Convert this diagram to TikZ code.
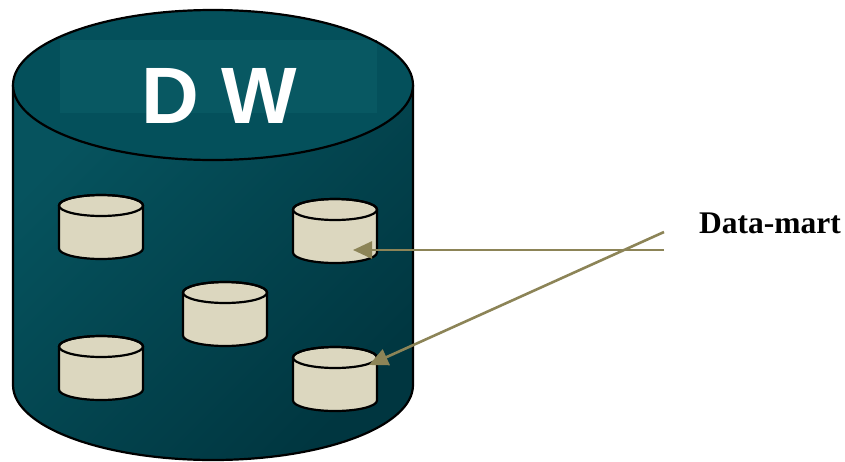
\documentclass[tikz,border=0pt]{standalone}
\usepackage{fontspec}
\setmainfont{Liberation Serif}
\newfontfamily\dwfont{Liberation Sans}
\usetikzlibrary{arrows.meta}
\definecolor{tealA}{HTML}{06535E}
\definecolor{tealB}{HTML}{003640}
\definecolor{tealTop}{HTML}{04505B}
\definecolor{tealRect}{HTML}{085862}
\definecolor{cylfill}{HTML}{DCD7BF}
\definecolor{arrcol}{HTML}{8C8457}
\tikzset{
  outline/.style={draw=black, line width=2.2pt},
  smallcyl/.style={outline, fill=cylfill},
  arr/.style={draw=arrcol, line width=2.6pt, -{Triangle[length=19pt,width=17pt]}},
  lbl/.style={font=\bfseries\fontsize{31.5}{36}\selectfont, anchor=base west, inner sep=0pt},
  dwlbl/.style={font=\dwfont\bfseries\fontsize{80}{90}\selectfont, text=white, inner sep=0pt},
}
\newcommand{\mycyl}[3]{% name, x, y (top-left)
  \path[smallcyl] (#2,#3+10.5) -- (#2,#3+53.5) arc(180:360:42pt and 10.5pt) -- (#2+84,#3+10.5) arc(0:180:42pt and 10.5pt) -- cycle;
  \draw[outline] (#2+42,#3+10.5) ellipse (42pt and 10.5pt);
  \coordinate (#1) at (#2+42,#3+32);
}
\begin{document}
\begin{tikzpicture}[x=1pt,y=-1pt]
\useasboundingbox (0,0) rectangle (845,461);
% big cylinder body
\shade[left color=tealA, right color=tealB, shading angle=45]
  (13,85) -- (13,385) arc(180:360:200pt and 75pt) -- (413,85) -- cycle;
\draw[outline] (13,85) -- (13,385) arc(180:360:200pt and 75pt) -- (413,85);
% top ellipse
\path[fill=tealTop] (213,85) ellipse (200pt and 75pt);
\fill[tealRect] (60,40) rectangle (377,113);
\draw[outline] (213,85) ellipse (200pt and 75pt);
\node[dwlbl] (dw) at (219,96) {D W};
% small cylinders
\mycyl{c1}{59}{195}
\mycyl{c2}{293}{199}
\mycyl{c3}{183}{282}
\mycyl{c4}{59}{336}
\mycyl{c5}{293}{347}
\coordinate (t1) at (353,250);
\coordinate (t2) at (369,365);
% label and arrows
\node[lbl] (dm) at (699,233) {Data-mart};
\coordinate (s1) at (664,250);
\coordinate (s2) at (664,232);
\draw[arr] (s1) -- (t1);
\draw[arr] (s2) -- (t2);
\end{tikzpicture}
\end{document}
